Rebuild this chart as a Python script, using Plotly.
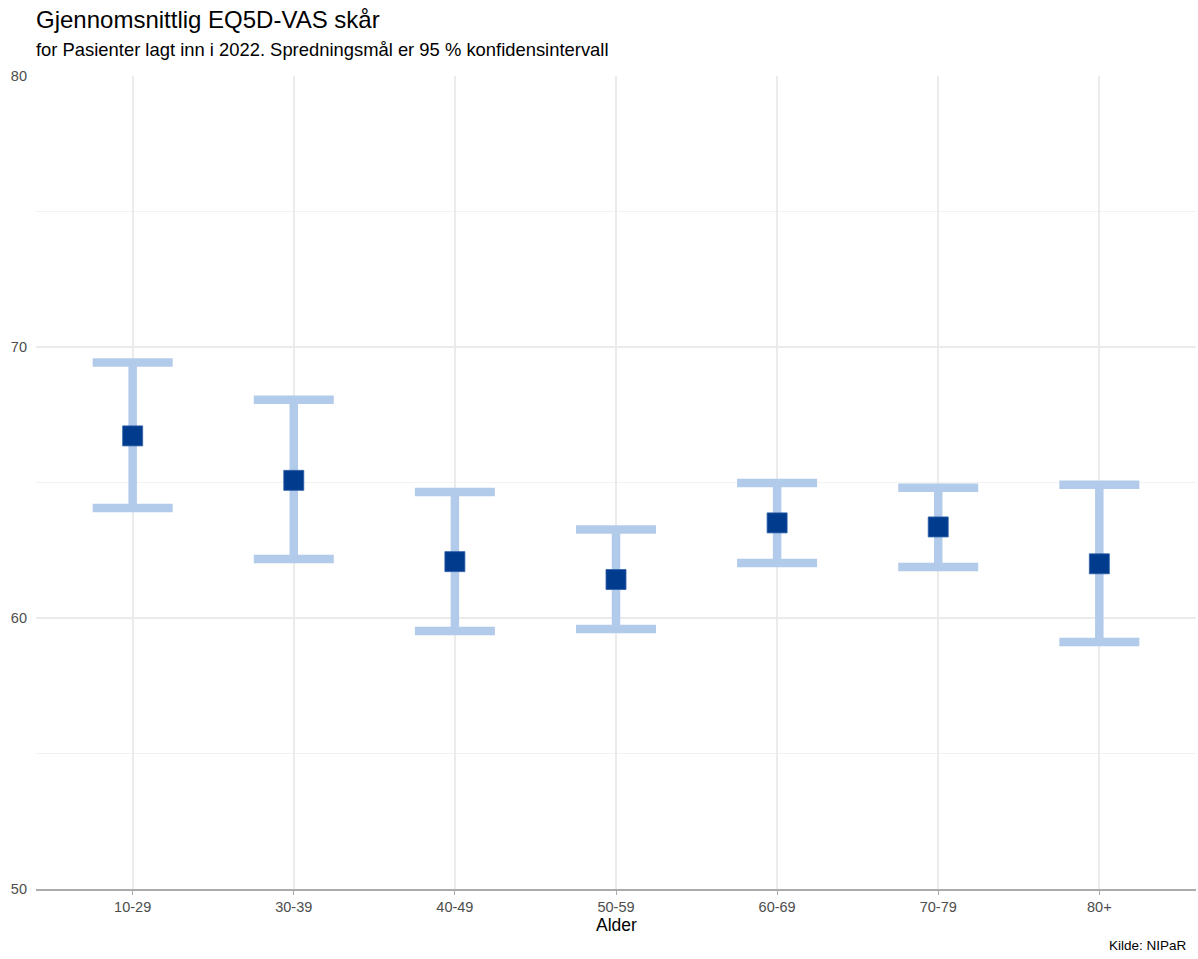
import plotly.graph_objects as go

categories = ["10-29", "30-39", "40-49", "50-59", "60-69", "70-79", "80+"]
mean_vals = [66.72, 65.08, 62.08, 61.42, 63.51, 63.36, 62.00]
lower_vals = [64.06, 62.18, 59.52, 59.59, 62.03, 61.88, 59.11]
upper_vals = [69.43, 68.05, 64.65, 63.27, 64.98, 64.81, 64.92]
y_ticks = [50, 60, 70, 80]

err_plus = [u - m for u, m in zip(upper_vals, mean_vals)]
err_minus = [m - l for m, l in zip(mean_vals, lower_vals)]

FONT = "Liberation Sans, Arial, sans-serif"
PH = 813.0   # plot height in px
PW = 1160.0  # plot width in px

fig = go.Figure()
fig.add_trace(go.Scatter(
    x=categories, y=mean_vals, mode="markers",
    marker=dict(symbol="square", size=20, color="#003B8E",
                line=dict(width=0.8, color="#2f5fa8")),
    error_y=dict(type="data", symmetric=False, array=err_plus, arrayminus=err_minus,
                 color="#B2CBEA", thickness=8.5, width=40),
    showlegend=False, hoverinfo="skip",
))

fig.update_layout(
    width=1198, height=959,
    margin=dict(l=36, r=2, t=76, b=70),
    plot_bgcolor="white", paper_bgcolor="white",
    font=dict(family=FONT, color="#4D4D4D", size=14.5),
    xaxis=dict(
        type="category", range=[-0.6, 6.6], automargin=False,
        showgrid=True, gridcolor="#EBEBEB", gridwidth=1.5,
        showline=True, linecolor="#ABABAB", linewidth=2,
        ticks="outside", ticklen=4, tickcolor="#ABABAB", tickwidth=1,
        tickfont=dict(size=14.5, color="#4D4D4D"),
        zeroline=False,
    ),
    yaxis=dict(
        range=[50, 80], tickvals=y_ticks, automargin=False,
        showgrid=True, gridcolor="#EBEBEB", gridwidth=1.5,
        minor=dict(dtick=5, tick0=50, showgrid=True, gridcolor="#F2F2F2", gridwidth=1),
        zeroline=False, showline=False, ticks="",
        tickfont=dict(size=14.5, color="#4D4D4D"), ticklabelstandoff=8,
    ),
    annotations=[
        dict(text="Gjennomsnittlig EQ5D-VAS skår", xref="paper", yref="paper",
             x=0, y=1 + 57/PH, xanchor="left", yanchor="middle", showarrow=False,
             font=dict(size=24, color="black", family=FONT), xshift=-2),
        dict(text="for Pasienter lagt inn i 2022. Spredningsmål er 95 % konfidensintervall",
             xref="paper", yref="paper", x=0, y=1 + 27/PH, xanchor="left", yanchor="middle",
             showarrow=False, font=dict(size=18.4, color="black", family=FONT), xshift=-2),
        dict(text="Alder", xref="paper", yref="paper", x=0.5, y=-36/PH,
             xanchor="center", yanchor="middle", showarrow=False,
             font=dict(size=17.5, color="black", family=FONT)),
        dict(text="Kilde: NIPaR", xref="paper", yref="paper", x=(1189-36)/PW, y=-56/PH,
             xanchor="right", yanchor="middle", showarrow=False,
             font=dict(size=13.5, color="black", family=FONT)),
    ],
)

fig.write_html("out.html", config={"displayModeBar": False},
               post_script="document.body.style.margin='0';document.body.style.overflow='hidden';")
